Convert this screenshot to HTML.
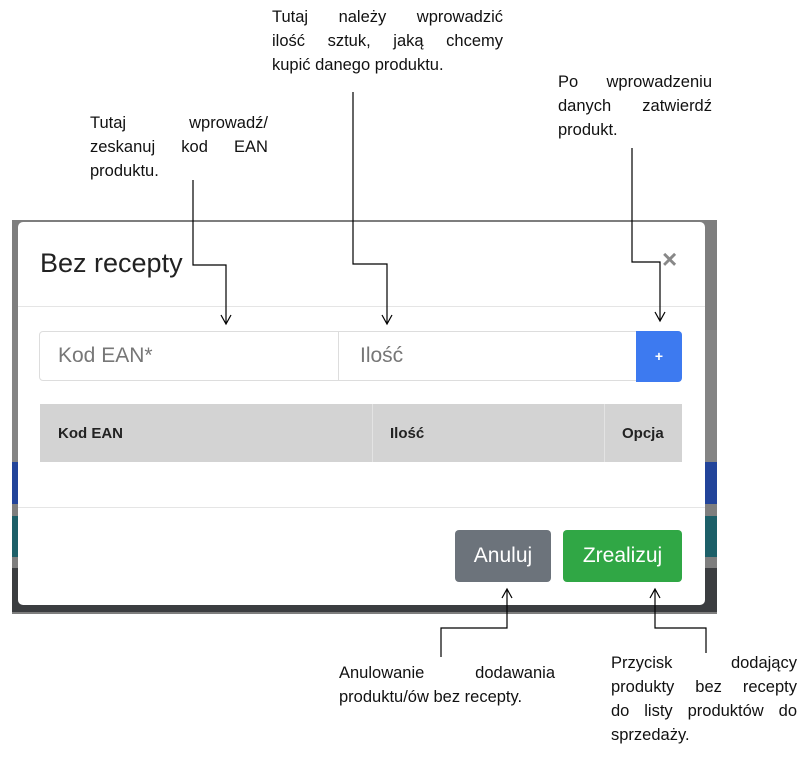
<!DOCTYPE html>
<html><head><meta charset="utf-8"><style>
body{margin:0;width:812px;height:763px;background:#fff;position:relative;overflow:hidden;font-family:"Liberation Sans",sans-serif}
.a{position:absolute}
.t{position:absolute;font-size:16.5px;line-height:24px;height:24px;white-space:nowrap;color:#111;display:flex;justify-content:space-between}
.lab{position:absolute;font-size:15px;font-weight:bold;color:#222}
</style></head><body>
<div class="a" style="left:12px;top:220px;width:705px;height:394px;background:#7e7e7e"></div>
<div class="a" style="left:12px;top:330px;width:705px;height:132px;background:#848484"></div>
<div class="a" style="left:12px;top:462px;width:705px;height:42px;background:#22449a"></div>
<div class="a" style="left:12px;top:516px;width:705px;height:41px;background:#1d5f68"></div>
<div class="a" style="left:12px;top:568px;width:705px;height:44px;background:#3b3d40"></div>
<div class="a" style="left:18px;top:222px;width:687px;height:383px;background:#fff;border-radius:5px"></div>
<div class="a" style="left:40px;top:248px;font-size:27px;color:#222">Bez recepty</div>
<div class="a" style="left:662px;top:244px;font-size:26px;font-weight:bold;color:#888">×</div>
<div class="a" style="left:18px;top:306px;width:687px;height:1px;background:#e5e5e5"></div>
<div class="a" style="left:39px;top:331px;width:643px;height:50px;border:1px solid #ddd;border-radius:4px;box-sizing:border-box"></div>
<div class="a" style="left:338px;top:331px;width:1px;height:50px;background:#ddd"></div>
<div class="a" style="left:58px;top:344px;font-size:21px;color:#777">Kod EAN*</div>
<div class="a" style="left:360px;top:344px;font-size:21px;color:#777">Ilość</div>
<div class="a" style="left:636px;top:331px;width:46px;height:51px;background:#3d7af0;border-radius:0 4px 4px 0;color:#fff;font-weight:bold;font-size:14px;text-align:center;line-height:50px">+</div>
<div class="a" style="left:40px;top:404px;width:642px;height:58px;background:#d3d3d3"></div>
<div class="a" style="left:372px;top:404px;width:1px;height:58px;background:#e3e3e3"></div>
<div class="a" style="left:604px;top:404px;width:1px;height:58px;background:#e3e3e3"></div>
<div class="lab" style="left:58px;top:425px">Kod EAN</div>
<div class="lab" style="left:390px;top:425px">Ilość</div>
<div class="lab" style="left:622px;top:425px">Opcja</div>
<div class="a" style="left:18px;top:507px;width:687px;height:1px;background:#e5e5e5"></div>
<div class="a" style="left:455px;top:530px;width:96px;height:52px;background:#6c737b;border-radius:4px;color:#fff;font-size:21px;text-align:center;line-height:52px">Anuluj</div>
<div class="a" style="left:563px;top:530px;width:119px;height:52px;background:#30a745;border-radius:4px;color:#fff;font-size:21px;text-align:center;line-height:52px">Zrealizuj</div>
<svg class="a" style="left:0;top:0" width="812" height="763" fill="none" stroke="#000" stroke-width="1.2">
<polyline points="193,180 193,265 226,265 226,323"/><polyline points="221,315 226,324 231,315"/>
<polyline points="353,92 353,264 387,264 387,323"/><polyline points="382,315 387,324 392,315"/>
<polyline points="632,148 632,262 660,262 660,320"/><polyline points="655,312 660,321 665,312"/>
<polyline points="507,590 507,628 441,628 441,657"/><polyline points="502,598 507,589 512,598"/>
<polyline points="655,590 655,628 706,628 706,653"/><polyline points="650,598 655,589 660,598"/>
</svg>
<div class="t" style="left:272px;top:5px;width:231px"><span>Tutaj</span><span>należy</span><span>wprowadzić</span></div>
<div class="t" style="left:272px;top:29px;width:231px"><span>ilość</span><span>sztuk,</span><span>jaką</span><span>chcemy</span></div>
<div class="t" style="left:272px;top:53px;width:231px"><span>kupić danego produktu.</span></div>
<div class="t" style="left:90px;top:111px;width:178px"><span>Tutaj</span><span>wprowadź/</span></div>
<div class="t" style="left:90px;top:135px;width:178px"><span>zeskanuj</span><span>kod</span><span>EAN</span></div>
<div class="t" style="left:90px;top:159px;width:178px"><span>produktu.</span></div>
<div class="t" style="left:558px;top:70px;width:154px"><span>Po</span><span>wprowadzeniu</span></div>
<div class="t" style="left:558px;top:94px;width:154px"><span>danych</span><span>zatwierdź</span></div>
<div class="t" style="left:558px;top:118px;width:154px"><span>produkt.</span></div>
<div class="t" style="left:339px;top:661px;width:216px"><span>Anulowanie</span><span>dodawania</span></div>
<div class="t" style="left:339px;top:685px;width:220px"><span>produktu/ów bez recepty.</span></div>
<div class="t" style="left:611px;top:651px;width:186px"><span>Przycisk</span><span>dodający</span></div>
<div class="t" style="left:611px;top:675px;width:186px"><span>produkty</span><span>bez</span><span>recepty</span></div>
<div class="t" style="left:611px;top:699px;width:186px"><span>do</span><span>listy</span><span>produktów</span><span>do</span></div>
<div class="t" style="left:611px;top:723px;width:186px"><span>sprzedaży.</span></div>
</body></html>
